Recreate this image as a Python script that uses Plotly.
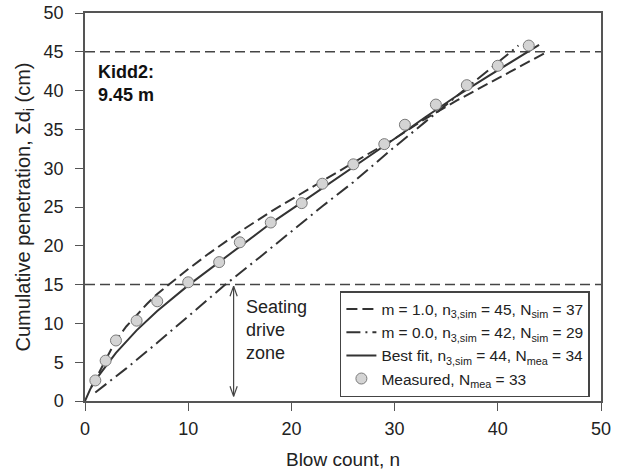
import plotly.graph_objects as go

# Measured cumulative penetration
meas_n = [1, 2, 3, 5, 7, 10, 13, 15, 18, 21, 23, 26, 29, 31, 34, 37, 40, 43]
meas_d = [2.65, 5.2, 7.8, 10.35, 12.85, 15.3, 17.9, 20.45, 23.0, 25.5, 28.0, 30.5,
          33.1, 35.6, 38.2, 40.7, 43.2, 45.8]

# m = 1.0 simulation (dashed)
m1_n = [0.6, 1, 2, 3, 4, 5, 6, 7, 8, 10, 12, 15, 18, 21, 24, 27, 30, 33, 36, 39, 42, 44.8]
m1_d = [1.8, 2.7, 5.3, 7.8, 9.6, 11.1, 12.5, 13.8, 14.9, 17.0, 19.0, 21.8, 24.4, 26.8,
        29.2, 31.5, 33.8, 36.4, 38.7, 40.9, 43.0, 45.0]

# m = 0.0 simulation (dash-dot)
m0_n = [1, 4, 7, 10, 13.6, 17, 20, 23, 26, 29.6, 33, 36, 39, 42]
m0_d = [1.1, 4.2, 7.5, 10.9, 15.0, 18.6, 21.9, 25.1, 28.2, 32.3, 36.0, 39.3, 42.6, 45.8]

# Best fit (solid)
bf_n = [0, 0.5, 1, 2, 3, 5, 7, 10, 13, 15, 18, 21, 24, 27, 30, 33, 36, 39, 42, 44]
bf_d = [0, 1.5, 2.7, 4.5, 6.2, 9.1, 11.6, 14.9, 17.9, 20.0, 22.9, 25.6, 28.3, 31.0,
        33.8, 36.6, 39.3, 41.8, 44.2, 45.9]

# Reference lines
ref_levels = [15, 45]
x_ticks = [0, 10, 20, 30, 40, 50]
y_ticks = [0, 5, 10, 15, 20, 25, 30, 35, 40, 45, 50]

FONT = "Liberation Sans, Arial, sans-serif"
LC = "#333333"

fig = go.Figure()

fig.add_trace(go.Scatter(
    x=m1_n, y=m1_d, mode="lines",
    line=dict(color=LC, width=2, dash="11px,5px"),
    name="m = 1.0, n<sub>3,sim</sub> = 45, N<sub>sim</sub> = 37"))
fig.add_trace(go.Scatter(
    x=m0_n, y=m0_d, mode="lines",
    line=dict(color=LC, width=2, dash="14px,5px,2px,5px"),
    name="m = 0.0, n<sub>3,sim</sub> = 42, N<sub>sim</sub> = 29"))
fig.add_trace(go.Scatter(
    x=bf_n, y=bf_d, mode="lines",
    line=dict(color=LC, width=2),
    name="Best fit, n<sub>3,sim</sub> = 44, N<sub>mea</sub> = 34"))
fig.add_trace(go.Scatter(
    x=meas_n, y=meas_d, mode="markers",
    marker=dict(size=11, color="#d4d4d4", line=dict(color="#7a7a7a", width=1)),
    name="Measured, N<sub>mea</sub> = 33"))

for lv in ref_levels:
    fig.add_shape(type="line", xref="paper", x0=0, x1=1, yref="y", y0=lv, y1=lv,
                  line=dict(color="#444444", width=1.5, dash="10px,5px"), layer="below")

# Seating drive zone double arrow
ax_x = 14.4
fig.add_shape(type="line", x0=ax_x, x1=ax_x, y0=0.6, y1=14.8,
              line=dict(color="#444444", width=1.2))
for (yt, s) in [(14.8, -1), (0.6, 1)]:
    fig.add_shape(type="line", x0=ax_x - 0.35, x1=ax_x, y0=yt + s * 1.3, y1=yt,
                  line=dict(color="#444444", width=1.2))
    fig.add_shape(type="line", x0=ax_x + 0.35, x1=ax_x, y0=yt + s * 1.3, y1=yt,
                  line=dict(color="#444444", width=1.2))

for txt, yy in [("Seating", 12.06), ("drive", 9.1), ("zone", 6.2)]:
    fig.add_annotation(x=15.45, y=yy, xref="x", yref="y", xanchor="left", yanchor="middle",
                       text=txt, showarrow=False, align="left",
                       font=dict(family=FONT, size=18, color="#222222"))
for txt, yy in [("<b>Kidd2:</b>", 42.4), ("<b>9.45 m</b>", 39.4)]:
    fig.add_annotation(x=1.1, y=yy, xref="x", yref="y", xanchor="left", yanchor="middle",
                       text=txt, showarrow=False, align="left",
                       font=dict(family=FONT, size=18, color="#111111"))

fig.update_layout(
    width=622, height=474,
    margin=dict(l=85, r=21, t=13, b=73),
    paper_bgcolor="white", plot_bgcolor="white",
    font=dict(family=FONT, size=18, color="#222222"),
    showlegend=True,
    legend=dict(x=0.494, y=0.2835, xanchor="left", yanchor="top",
                bordercolor="#444444", borderwidth=1.5, bgcolor="white",
                font=dict(family=FONT, size=15.5, color="#222222"),
                tracegroupgap=0, itemwidth=30),
)
fig.update_xaxes(range=[0, 50], tickvals=x_ticks, ticks="outside", ticklen=8,
                 tickcolor="#555555", showline=True, mirror=True, linecolor="#555555",
                 linewidth=1.5, showgrid=False, zeroline=False, automargin=False,
                 ticklabelstandoff=3, tickfont=dict(size=18),
                 title=dict(text="Blow count, n", standoff=14, font=dict(size=19)))
fig.update_yaxes(range=[0, 50], tickvals=y_ticks, ticks="outside", ticklen=8,
                 tickcolor="#555555", showline=True, mirror=True, linecolor="#555555",
                 linewidth=1.5, showgrid=False, zeroline=False, automargin=False,
                 ticklabelstandoff=8, tickfont=dict(size=18),
                 title=dict(text="Cumulative penetration, Σd<sub>i</sub> (cm)", standoff=8,
                            font=dict(size=20)))

fig.write_html("out.html", config={"displayModeBar": False},
               post_script="document.body.style.margin='0px';")
